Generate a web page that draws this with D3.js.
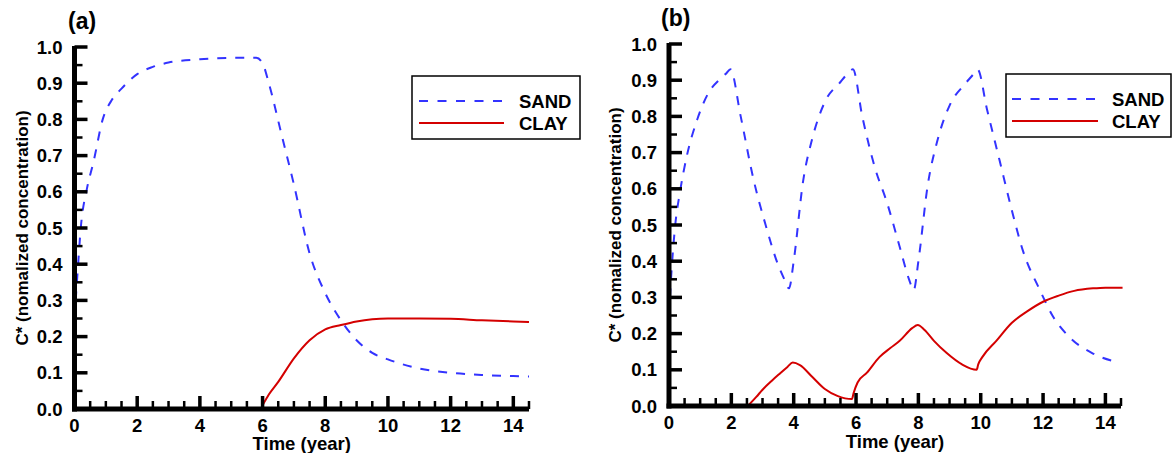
<!DOCTYPE html>
<html><head><meta charset="utf-8">
<script src="https://cdn.jsdelivr.net/npm/d3@7"></script>
<style>
html,body{margin:0;padding:0;background:#fff;}
svg{display:block;font-family:"Liberation Sans",Arial,sans-serif;font-weight:bold;}
</style></head>
<body><svg id="chart" width="1173" height="453" viewBox="0 0 1173 453"></svg>
<script>
// ---- data ----
const xMajorTicks = [0,2,4,6,8,10,12,14];
const yMajorTicks = [0,0.1,0.2,0.3,0.4,0.5,0.6,0.7,0.8,0.9,1.0];
const seriesNames = ["SAND","CLAY"];
const panelLabels = ["(a)","(b)"];
const xTitle = "Time (year)";
const yTitle = "C* (nomalized concentration)";

const sandA_t = [0,0.1,0.2,0.4,0.6,0.9,1.2,1.5,2.0,2.5,3.0,4.0,5.0,5.8,6.0,6.2,6.6,7.0,7.5,8.0,8.5,9.0,9.5,10,11,12,13,14,14.5];
const sandA_c = [0.25,0.38,0.50,0.61,0.68,0.80,0.855,0.885,0.925,0.945,0.957,0.966,0.970,0.970,0.955,0.90,0.76,0.62,0.43,0.32,0.245,0.19,0.155,0.137,0.112,0.10,0.094,0.091,0.09];
const clayA_t = [6.0,6.2,6.5,7.0,7.5,8.0,8.5,9.0,9.5,10,11,12,13,14,14.5];
const clayA_c = [0.01,0.04,0.075,0.14,0.19,0.22,0.232,0.242,0.248,0.25,0.25,0.249,0.245,0.242,0.24];

const sandB_t = [0,0.05,0.2,0.35,0.57,0.9,1.3,1.6,1.85,1.97,2.3,2.7,3.1,3.5,3.7,3.85,4.0,4.3,4.6,5.0,5.5,5.75,5.9,6.2,6.6,7.0,7.4,7.7,7.85,8.0,8.3,8.6,9.0,9.5,9.75,9.9,10.2,10.6,11.0,11.35,11.9,12.3,12.85,13.6,14.45];
const sandB_c = [0.25,0.33,0.50,0.59,0.69,0.79,0.87,0.90,0.92,0.93,0.80,0.63,0.50,0.39,0.35,0.325,0.40,0.62,0.74,0.84,0.895,0.92,0.93,0.80,0.66,0.56,0.44,0.35,0.32,0.40,0.61,0.73,0.83,0.89,0.915,0.93,0.82,0.68,0.54,0.43,0.32,0.25,0.19,0.145,0.12];
const clayB_t = [2.53,2.8,3.0,3.3,3.56,3.8,3.97,4.2,4.6,5.0,5.4,5.87,5.92,6.05,6.35,6.75,7.1,7.4,7.8,7.98,8.2,8.5,8.9,9.4,9.87,9.92,10.05,10.5,11.0,11.5,12.0,12.5,13.0,13.6,14.0,14.55];
const clayB_c = [0,0.025,0.045,0.07,0.09,0.108,0.12,0.113,0.08,0.047,0.028,0.019,0.035,0.065,0.092,0.135,0.16,0.18,0.215,0.224,0.21,0.18,0.147,0.115,0.10,0.115,0.135,0.18,0.23,0.262,0.288,0.305,0.318,0.325,0.327,0.327];

// ---- drawing ----
const svg = d3.select("#chart");
svg.append("rect").attr("width",1173).attr("height",453).attr("fill","#fff");
const SAND_COLOR = "#3333ff", CLAY_COLOR = "#d40000";
const FS = 18.5;

const panels = [
  {label:panelLabels[0], left:74.5, right:529, top:47, bottom:409,
   sand:[sandA_t,sandA_c], clay:[clayA_t,clayA_c],
   labelX:68, labelY:29, titleX:28, titleYBase:450,
   legend:{x:412,y:76,w:168,h:63,lx0:419,lx1:504,tx:519,y1:101,y2:123}},
  {label:panelLabels[1], left:669, right:1121, top:44, bottom:406,
   sand:[sandB_t,sandB_c], clay:[clayB_t,clayB_c],
   labelX:661, labelY:26, titleX:621, titleYBase:448,
   legend:{x:1006,y:74,w:165,h:63,lx0:1012,lx1:1098,tx:1112,y1:99,y2:121}}
];

const xMinor = d3.range(0,14.51,0.5).filter(v=>!xMajorTicks.includes(v));
const yMinor = d3.range(0.05,1.0,0.1).map(v=>+v.toFixed(2));

panels.forEach(p=>{
  const x = d3.scaleLinear().domain([0,14.5]).range([p.left,p.right]);
  const y = d3.scaleLinear().domain([0,1]).range([p.bottom,p.top]);
  const g = svg.append("g");

  const line = d3.line().x(d=>x(d[0])).y(d=>y(d[1])).curve(d3.curveMonotoneX);
  const sandPts = p.sand[0].map((t,i)=>[t,p.sand[1][i]]);
  const clayPts = p.clay[0].map((t,i)=>[t,p.clay[1][i]]);
  g.append("path").attr("d",line(sandPts)).attr("fill","none")
    .attr("stroke",SAND_COLOR).attr("stroke-width",2).attr("stroke-dasharray","9,9");
  g.append("path").attr("d",line(clayPts)).attr("fill","none")
    .attr("stroke",CLAY_COLOR).attr("stroke-width",2);

  // ticks as filled rects positioned by the scales
  const tg = g.append("g").attr("fill","#000");
  xMinor.forEach(v=>tg.append("rect").attr("x",x(v)-1.25).attr("y",p.bottom-8).attr("width",2.5).attr("height",8));
  xMajorTicks.forEach(v=>tg.append("rect").attr("x",x(v)-1.75).attr("y",p.bottom-13).attr("width",3.5).attr("height",13));
  yMinor.forEach(v=>tg.append("rect").attr("x",p.left).attr("y",y(v)-1.25).attr("width",8).attr("height",2.5));
  yMajorTicks.forEach(v=>tg.append("rect").attr("x",p.left).attr("y",y(v)-1.75).attr("width",13).attr("height",3.5));

  xMajorTicks.forEach(v=>g.append("text")
    .attr("x",x(v)).attr("y",p.bottom+23).attr("text-anchor","middle")
    .attr("font-size",FS).text(d3.format("d")(v)));
  yMajorTicks.forEach(v=>g.append("text")
    .attr("x",p.left-12).attr("y",y(v)+6.5).attr("text-anchor","end")
    .attr("font-size",FS).text(d3.format(".1f")(v)));

  // axis lines (filled rects)
  tg.append("rect").attr("x",p.left-2.5).attr("y",p.top-1).attr("width",5).attr("height",p.bottom-p.top+3.5);
  tg.append("rect").attr("x",p.left-2.5).attr("y",p.bottom-2.5).attr("width",p.right-p.left+2.5).attr("height",5);

  // titles
  g.append("text").attr("x",(p.left+p.right)/2).attr("y",p.titleYBase)
    .attr("text-anchor","middle").attr("font-size",FS).text(xTitle);
  g.append("text").attr("transform",`translate(${p.titleX},${(p.top+p.bottom)/2}) rotate(-90)`)
    .attr("text-anchor","middle").attr("font-size",17).text(yTitle);
  g.append("text").attr("x",p.labelX).attr("y",p.labelY).attr("font-size",23).text(p.label);

  // legend
  const L = p.legend;
  g.append("rect").attr("x",L.x).attr("y",L.y).attr("width",L.w).attr("height",L.h)
    .attr("fill","#fff").attr("stroke","#000").attr("stroke-width",1.5);
  g.append("line").attr("x1",L.lx0).attr("x2",L.lx1).attr("y1",L.y1).attr("y2",L.y1)
    .attr("stroke",SAND_COLOR).attr("stroke-width",2).attr("stroke-dasharray","9,9.5");
  g.append("line").attr("x1",L.lx0).attr("x2",L.lx1).attr("y1",L.y2).attr("y2",L.y2)
    .attr("stroke",CLAY_COLOR).attr("stroke-width",2);
  g.append("text").attr("x",L.tx).attr("y",L.y1+6.5).attr("font-size",FS).text(seriesNames[0]);
  g.append("text").attr("x",L.tx).attr("y",L.y2+6.5).attr("font-size",FS).text(seriesNames[1]);
});
</script></body></html>
